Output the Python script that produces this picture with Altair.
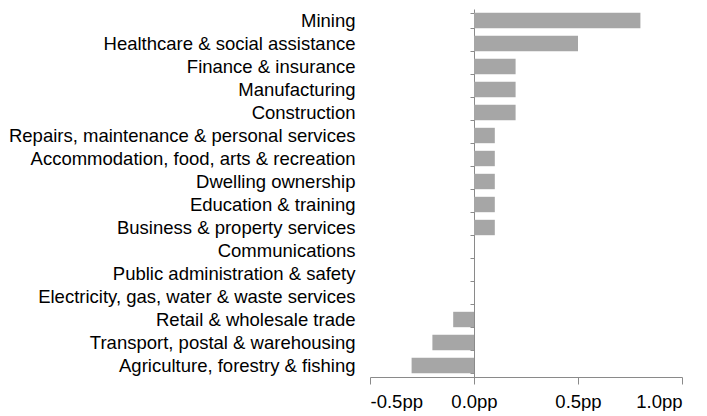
import altair as alt
import pandas as pd

categories = [
    "Mining",
    "Healthcare & social assistance",
    "Finance & insurance",
    "Manufacturing",
    "Construction",
    "Repairs, maintenance & personal services",
    "Accommodation, food, arts & recreation",
    "Dwelling ownership",
    "Education & training",
    "Business & property services",
    "Communications",
    "Public administration & safety",
    "Electricity, gas, water & waste services",
    "Retail & wholesale trade",
    "Transport, postal & warehousing",
    "Agriculture, forestry & fishing",
]
values = [0.8, 0.5, 0.2, 0.2, 0.2, 0.1, 0.1, 0.1, 0.1, 0.1, 0.0, 0.0, 0.0, -0.1, -0.2, -0.3]
x_ticks = [-0.5, 0.0, 0.5, 1.0]

df = pd.DataFrame({"category": categories, "value": values})

FONT = "Liberation Sans"
AXIS_COLOR = "#8a8a8a"
W = 312
H = 368
zero_offset = -W * (0 - (-0.5)) / 1.5

label_expr = "(datum.value < 0 ? '-' : '') + format(abs(datum.value), '.1f') + 'pp'"

chart = (
    alt.Chart(df)
    .mark_bar(color="#a6a6a6")
    .encode(
        x=alt.X(
            "value:Q",
            scale=alt.Scale(domain=[-0.5, 1.0], nice=False, zero=False),
            axis=alt.Axis(
                values=x_ticks,
                labelExpr=label_expr,
                title=None,
                grid=False,
                domainColor=AXIS_COLOR,
                tickColor=AXIS_COLOR,
                tickSize=7,
                labelPadding=8,
                labelFont=FONT,
                labelFontSize=18.5,
                labelColor="#000000",
            ),
        ),
        y=alt.Y(
            "category:N",
            sort=categories,
            scale=alt.Scale(paddingInner=0.33, paddingOuter=0.165),
            axis=alt.Axis(
                title=None,
                offset=zero_offset,
                domainColor=AXIS_COLOR,
                tickColor=AXIS_COLOR,
                tickSize=4,
                tickBand="extent",
                labelPadding=-zero_offset - 4 + 15,
                labelFont=FONT,
                labelFontSize=18.5,
                labelColor="#000000",
                labelLimit=0,
                grid=False,
            ),
        ),
    )
    .properties(width=W, height=H, padding={"left": 0, "top": -8, "right": 0, "bottom": 0})
    .configure_view(stroke=None)
)

chart.save("out.html", embed_options={"renderer": "svg", "actions": False})
